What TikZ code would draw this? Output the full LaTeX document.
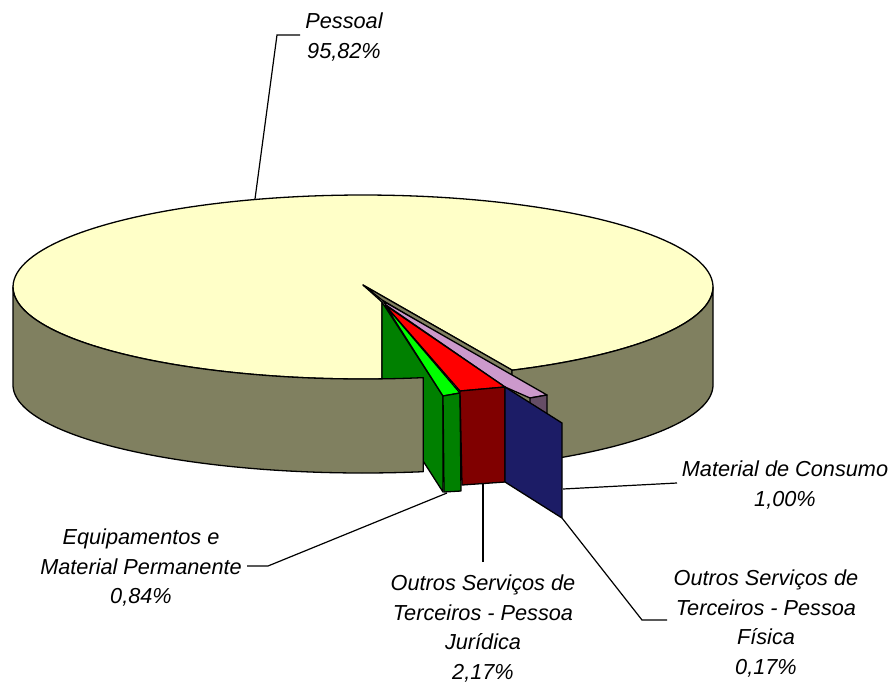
\documentclass[tikz,border=0pt]{standalone}
\usepackage{fontspec}
\setmainfont{Liberation Sans}
\definecolor{topyellow}{RGB}{255,255,200}
\definecolor{olive}{RGB}{128,128,96}
\definecolor{dgreen}{RGB}{0,128,0}
\definecolor{lgreen}{RGB}{0,255,0}
\definecolor{dred}{RGB}{128,0,0}
\definecolor{navyb}{RGB}{28,28,102}
\definecolor{lilac}{RGB}{204,153,204}
\definecolor{dpurple}{RGB}{102,77,102}
\newcommand\lblfont{\fontsize{21.7}{29.5}\selectfont\itshape}
\tikzset{
  slice/.style={draw=black, line width=1.3pt, line join=round},
  leader/.style={draw=black, line width=1.2pt},
  lbl/.style={font=\lblfont, align=center, inner sep=0pt, anchor=north},
}
\begin{document}
\begin{tikzpicture}[x=1pt,y=-1pt]
\useasboundingbox[fill=white] (0,0) rectangle (895,683);
% top of pie
\filldraw[slice, fill=topyellow]
  plot[domain=86.9:424.8, samples=160, variable=\t] ({363+350*cos(\t)},{287+92*sin(\t)})
  -- (363,285) -- (382,302) -- cycle;
% radial face of main slice
\filldraw[slice, fill=olive] (363,285) -- (512,370) -- (512,377) -- (382,300) -- cycle;
% right side wall
\filldraw[slice, fill=olive]
  plot[domain=0:64.8, samples=60, variable=\t] ({363+350*cos(\t)},{287+92*sin(\t)})
  -- plot[domain=64.8:0, samples=60, variable=\t] ({363+350*cos(\t)},{385+88*sin(\t)})
  -- cycle;
% lilac slice
\filldraw[slice, fill=lilac] (383,301) -- (547,395) -- (530,398) -- (505,387) -- (386,305) -- cycle;
\filldraw[slice, fill=dpurple] (530,398) -- (547,395) -- (547,414) -- (530,404) -- cycle;
% green radial face
\filldraw[slice, fill=dgreen] (382,302) -- (443,396) -- (443,492) -- (382,397) -- cycle;
% left side wall
\filldraw[slice, fill=olive]
  plot[domain=80.1:180, samples=80, variable=\t] ({363+350*cos(\t)},{287+92*sin(\t)})
  -- plot[domain=180:80.1, samples=80, variable=\t] ({363+350*cos(\t)},{385+88*sin(\t)})
  -- cycle;
% light green top and front green panel
\filldraw[slice, fill=lgreen] (385,305) -- (443,396) -- (460,393) -- cycle;
\filldraw[slice, fill=dgreen] (443,396) -- (460,393) -- (461,491) -- (444,492) -- cycle;
% red slice
\filldraw[slice, fill=red] (385,305) -- (460,391) -- (505,387) -- cycle;
\filldraw[slice, fill=dred] (460,391) -- (505,387) -- (505,482) -- (462,485) -- cycle;
% navy face
\filldraw[slice, fill=navyb] (505,387) -- (562,423) -- (562,518) -- (505,482) -- cycle;

% labels
\node[lbl] (lblPessoal) at (344,13) {Pessoal\\95,82\%};
\node[lbl] (lblEquip) at (141,529) {Equipamentos e\\Material Permanente\\0,84\%};
\node[lbl] (lblPJ) at (483,575) {Outros Serviços de\\Terceiros - Pessoa\\Jurídica\\2,17\%};
\node[lbl] (lblMat) at (785,461) {Material de Consumo\\1,00\%};
\node[lbl] (lblPF) at (766,570) {Outros Serviços de\\Terceiros - Pessoa\\Física\\0,17\%};

% leader coordinates
\coordinate (pL) at (300,35);
\coordinate (pK) at (277,35);
\coordinate (pA) at (255,199);
\coordinate (eL) at (247,566);
\coordinate (eK) at (268,566);
\coordinate (eA) at (447,493);
\coordinate (jL) at (483,562);
\coordinate (jA) at (483,484);
\coordinate (mL) at (677,483);
\coordinate (mA) at (563,489);
\coordinate (fL) at (667,620);
\coordinate (fK) at (642,620);
\coordinate (fA) at (562,518);
\draw[leader] (pL) -- (pK) -- (pA);
\draw[leader] (eL) -- (eK) -- (eA);
\draw[leader] (jL) -- (jA);
\draw[leader] (mL) -- (mA);
\draw[leader] (fL) -- (fK) -- (fA);
\end{tikzpicture}
\end{document}
